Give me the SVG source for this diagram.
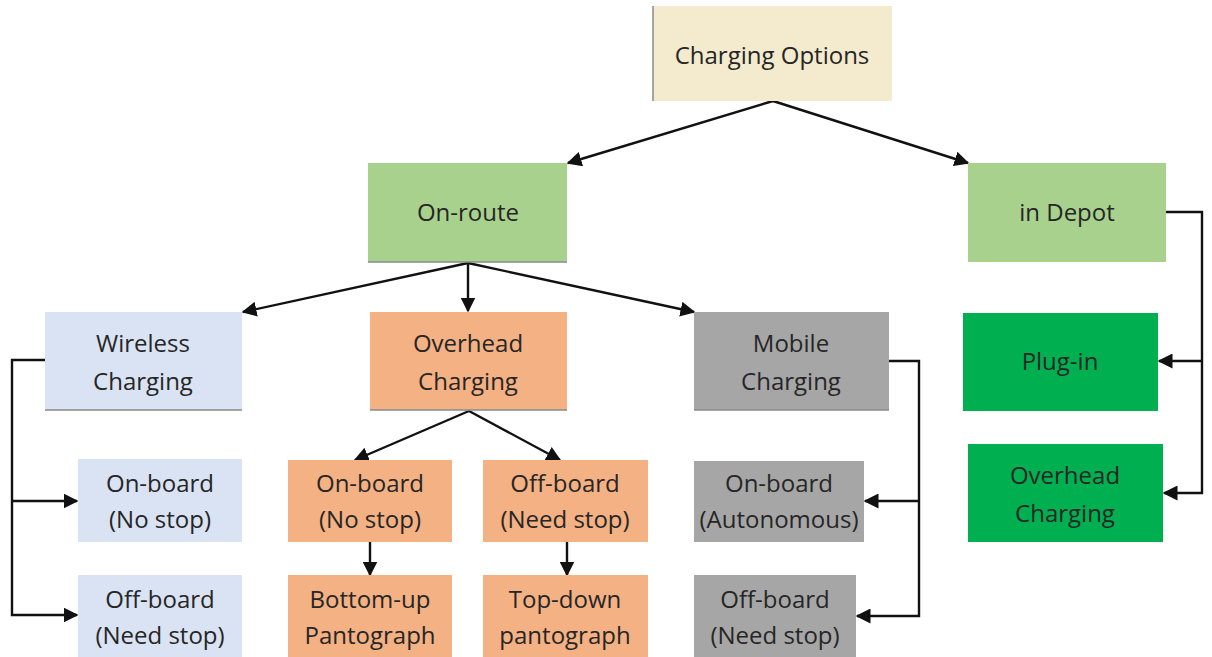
<svg xmlns="http://www.w3.org/2000/svg" width="1212" height="657" viewBox="0 0 1212 657">
<defs>
<marker id="ah" viewBox="0 0 10 10" refX="9" refY="5" markerWidth="15" markerHeight="15" markerUnits="userSpaceOnUse" orient="auto">
<path d="M0,0 L10,5 L0,10 z" fill="#111"/>
</marker>
</defs>
<style>
text{font-family:"Open Sans","Liberation Sans",sans-serif;font-size:24px;fill:#262626;text-anchor:middle}
.c path,.c line,.c polyline{stroke:#111;stroke-width:2.4;fill:none}
.beige{fill:#f4ebcf}
.lg{fill:#a9d18e}
.bl{fill:#dae3f3}
.or{fill:#f4b183}
.gr{fill:#a6a6a6}
.dg{fill:#00b050}
.edge{stroke:#8a8a8a;stroke-width:1.5}
</style>
<rect width="1212" height="657" fill="#fff"/>
<g class="c" id="connectors">
<line x1="773" y1="101" x2="568" y2="163" marker-end="url(#ah)"/>
<line x1="773" y1="101" x2="968" y2="163" marker-end="url(#ah)"/>
<line x1="468" y1="263" x2="243" y2="312" marker-end="url(#ah)"/>
<line x1="468" y1="263" x2="468" y2="311" marker-end="url(#ah)"/>
<line x1="468" y1="263" x2="694" y2="312" marker-end="url(#ah)"/>
<line x1="469" y1="411" x2="355" y2="460" marker-end="url(#ah)"/>
<line x1="469" y1="411" x2="560" y2="460" marker-end="url(#ah)"/>
<line x1="370" y1="542" x2="370" y2="575" marker-end="url(#ah)"/>
<line x1="567" y1="542" x2="567" y2="575" marker-end="url(#ah)"/>
<polyline points="45,360 12,360 12,615 77,615" marker-end="url(#ah)"/>
<line x1="12" y1="501" x2="77" y2="501" marker-end="url(#ah)"/>
<polyline points="889,361 919,361 919,616 857,616" marker-end="url(#ah)"/>
<line x1="919" y1="501" x2="865" y2="501" marker-end="url(#ah)"/>
<polyline points="1166,212 1202,212 1202,493 1164,493" marker-end="url(#ah)"/>
<line x1="1202" y1="361" x2="1159" y2="361" marker-end="url(#ah)"/>
</g>
<g id="n-root"><rect class="beige" x="653" y="6" width="239" height="95"/><line class="edge" x1="653" y1="6" x2="653" y2="101"/><text x="772" y="64">Charging Options</text></g>
<g id="n-onroute"><rect class="lg" x="368" y="163" width="199" height="99"/><line class="edge" x1="368" y1="262" x2="567" y2="262"/><text x="468" y="221">On-route</text></g>
<g id="n-depot"><rect class="lg" x="968" y="163" width="198" height="99"/><text x="1067" y="221">in Depot</text></g>
<g id="n-wireless"><rect class="bl" x="45" y="312" width="197" height="98"/><line class="edge" x1="45" y1="410" x2="242" y2="410"/><text x="143" y="352">Wireless</text><text x="143" y="390">Charging</text></g>
<g id="n-overhead"><rect class="or" x="370" y="312" width="197" height="98"/><line class="edge" x1="370" y1="410" x2="567" y2="410"/><text x="468" y="352">Overhead</text><text x="468" y="390">Charging</text></g>
<g id="n-mobile"><rect class="gr" x="694" y="312" width="195" height="98"/><line class="edge" x1="694" y1="410" x2="889" y2="410"/><text x="791" y="352">Mobile</text><text x="791" y="390">Charging</text></g>
<g id="n-plugin"><rect class="dg" x="963" y="313" width="195" height="98"/><text x="1060" y="370">Plug-in</text></g>
<g id="n-ohdepot"><rect class="dg" x="968" y="444" width="195" height="98"/><text x="1065" y="484">Overhead</text><text x="1065" y="522">Charging</text></g>
<g id="n-w-on"><rect class="bl" x="78" y="459" width="164" height="83"/><text x="160" y="492">On-board</text><text x="160" y="528">(No stop)</text></g>
<g id="n-w-off"><rect class="bl" x="78" y="575" width="164" height="82"/><text x="160" y="608">Off-board</text><text x="160" y="644">(Need stop)</text></g>
<g id="n-o-on"><rect class="or" x="288" y="460" width="164" height="82"/><text x="370" y="492">On-board</text><text x="370" y="528">(No stop)</text></g>
<g id="n-o-off"><rect class="or" x="483" y="460" width="165" height="82"/><text x="565" y="492">Off-board</text><text x="565" y="528">(Need stop)</text></g>
<g id="n-bottomup"><rect class="or" x="288" y="575" width="164" height="82"/><text x="370" y="608">Bottom-up</text><text x="370" y="644">Pantograph</text></g>
<g id="n-topdown"><rect class="or" x="483" y="575" width="165" height="82"/><text x="565" y="608">Top-down</text><text x="565" y="644">pantograph</text></g>
<g id="n-m-on"><rect class="gr" x="694" y="461" width="170" height="81"/><text x="779" y="492">On-board</text><text x="779" y="528">(Autonomous)</text></g>
<g id="n-m-off"><rect class="gr" x="694" y="575" width="162" height="82"/><text x="775" y="608">Off-board</text><text x="775" y="644">(Need stop)</text></g>
</svg>
